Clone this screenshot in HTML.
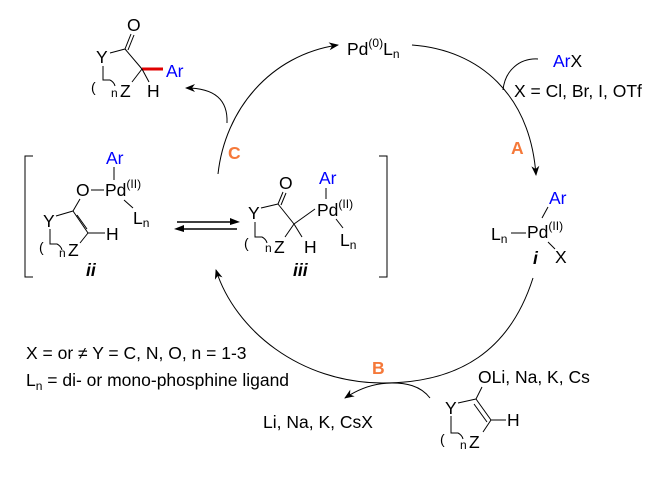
<!DOCTYPE html>
<html><head><meta charset="utf-8"><style>
html,body{margin:0;padding:0;background:#fff;}
svg{display:block;}
text{font-family:"Liberation Sans",sans-serif;font-size:17.5px;fill:#000;}
.s{font-size:12px;}
.b{fill:#0000ff;}
.o{fill:#f5793a;font-weight:bold;}
.it{font-style:italic;font-weight:bold;}
line,path{stroke:#000;stroke-width:1;fill:none;}
</style></head><body>
<svg width="672" height="485" viewBox="0 0 672 485" xmlns="http://www.w3.org/2000/svg">
<defs>
<marker id="ah" markerWidth="10" markerHeight="8" refX="9" refY="4" orient="auto" markerUnits="userSpaceOnUse">
<path d="M0,0 L10,4 L0,8 L3,4 Z" style="fill:#000;stroke:none"/></marker>
</defs>

<!-- top product -->
<text x="127" y="31">O</text>
<text x="96" y="63">Y</text>
<text x="166" y="77" class="b">Ar</text>
<text x="147" y="97">H</text>
<text x="120" y="97">Z</text>
<text x="91" y="92" style="font-size:14px">(</text>
<text x="111" y="97" class="s">n</text>
<line x1="110" y1="53" x2="125" y2="49"/>
<line x1="125" y1="49" x2="131" y2="34"/>
<line x1="128" y1="50" x2="134" y2="35"/>
<line x1="125" y1="49" x2="142" y2="69"/>
<line x1="142" y1="69" x2="163" y2="69" style="stroke:#e00000;stroke-width:3"/>
<line x1="142" y1="69" x2="149" y2="82"/>
<line x1="142" y1="69" x2="132" y2="82"/>
<path d="M103,66 L103,80 L110,80 M110,80 q4,2 5,6"/>

<!-- Pd(0)Ln -->
<text x="347" y="55">Pd<tspan class="s" dy="-8">(0)</tspan><tspan dy="8">L</tspan><tspan class="s" dy="3">n</tspan></text>

<!-- big arcs -->
<path d="M218,174 C225,110 270,55 338,45" marker-end="url(#ah)"/>
<path d="M412,45 C480,50 530,95 536,175" marker-end="url(#ah)"/>
<path d="M533,278 C510,350 460,383 383,383 C300,383 235,330 216,270" marker-end="url(#ah)"/>
<!-- small arcs -->
<path d="M227,123 C228,100 215,88 186,88" marker-end="url(#ah)"/>
<path d="M538,59 C520,58 505,70 503,90"/>
<path d="M430,398 C420,385 405,383 392,383 C375,383 360,388 345,398" marker-end="url(#ah)"/>

<!-- labels -->
<text x="228" y="159" class="o">C</text>
<text x="511" y="154" class="o">A</text>
<text x="372" y="374" class="o">B</text>
<text x="553" y="67"><tspan class="b">Ar</tspan>X</text>
<text x="514" y="97">X = Cl, Br, I, OTf</text>

<!-- complex i -->
<text x="549" y="204" class="b">Ar</text>
<line x1="548" y1="207" x2="542" y2="218"/>
<text x="527" y="238">Pd<tspan class="s" dy="-8">(II)</tspan></text>
<text x="491" y="240">L<tspan class="s" dy="3">n</tspan></text>
<line x1="511" y1="233" x2="526" y2="233"/>
<line x1="548" y1="242" x2="555" y2="249"/>
<text x="555" y="263">X</text>
<text x="533" y="264" class="it">i</text>

<!-- brackets -->
<path d="M33,156 L25,156 L25,277 L33,277"/>
<path d="M379,156 L387,156 L387,277 L379,277"/>

<!-- complex ii -->
<text x="106" y="164" class="b">Ar</text>
<line x1="114" y1="167" x2="114" y2="180"/>
<text x="76" y="196">O</text>
<line x1="91" y1="190" x2="104" y2="190"/>
<text x="105" y="196">Pd<tspan class="s" dy="-8">(II)</tspan></text>
<line x1="124" y1="200" x2="133" y2="208"/>
<text x="133" y="224">L<tspan class="s" dy="3">n</tspan></text>
<text x="43" y="227">Y</text>
<line x1="56" y1="216" x2="73" y2="211"/>
<line x1="73" y1="211" x2="80" y2="199"/>
<line x1="73" y1="211" x2="88" y2="233"/>
<line x1="77" y1="215" x2="87" y2="229"/>
<line x1="88" y1="233" x2="105" y2="233"/>
<text x="106" y="240">H</text>
<line x1="88" y1="233" x2="80" y2="243"/>
<text x="68" y="256">Z</text>
<path d="M50,229 L50,244 L57,244 q4,2 5,6"/>
<text x="39" y="252" style="font-size:14px">(</text>
<text x="59" y="257" class="s">n</text>
<text x="86" y="276" class="it">ii</text>

<!-- equilibrium arrows -->
<line x1="177" y1="222" x2="232" y2="222" style="stroke-width:1.5"/>
<path d="M240,222 L230,218 L230,225 Z" style="fill:#000;stroke:none"/>
<line x1="182" y1="229" x2="237" y2="229" style="stroke-width:1.5"/>
<path d="M174,229 L184,225 L184,232 Z" style="fill:#000;stroke:none"/>

<!-- complex iii -->
<text x="279" y="189">O</text>
<text x="319" y="184" class="b">Ar</text>
<line x1="326" y1="188" x2="326" y2="199"/>
<text x="317" y="216">Pd<tspan class="s" dy="-8">(II)</tspan></text>
<line x1="336" y1="219" x2="343" y2="228"/>
<text x="340" y="246">L<tspan class="s" dy="3">n</tspan></text>
<text x="248" y="219">Y</text>
<line x1="261" y1="208" x2="278" y2="204"/>
<line x1="278" y1="204" x2="283" y2="192"/>
<line x1="281" y1="205" x2="286" y2="193"/>
<line x1="278" y1="204" x2="294" y2="224"/>
<line x1="294" y1="224" x2="315" y2="209"/>
<line x1="294" y1="224" x2="302" y2="237"/>
<text x="304" y="253">H</text>
<line x1="294" y1="224" x2="285" y2="237"/>
<text x="274" y="253">Z</text>
<path d="M255,222 L255,237 L262,237 q4,2 5,6"/>
<text x="244" y="248" style="font-size:14px">(</text>
<text x="265" y="252" class="s">n</text>
<text x="293" y="276" class="it">iii</text>

<!-- notes -->
<text x="26" y="359">X = or ≠ Y = C, N, O, n = 1-3</text>
<text x="26" y="386">L<tspan class="s" dy="4">n</tspan><tspan dy="-4"> = di- or mono-phosphine ligand</tspan></text>
<text x="263" y="428">Li, Na, K, CsX</text>

<!-- enolate -->
<text x="478" y="383">OLi, Na, K, Cs</text>
<line x1="476" y1="399" x2="482" y2="387"/>
<text x="445" y="414">Y</text>
<line x1="458" y1="403" x2="476" y2="399"/>
<line x1="476" y1="399" x2="491" y2="420"/>
<line x1="474" y1="404" x2="487" y2="422"/>
<line x1="491" y1="420" x2="506" y2="420"/>
<text x="507" y="426">H</text>
<line x1="491" y1="420" x2="483" y2="432"/>
<text x="469" y="448">Z</text>
<path d="M451,416 L451,433 L458,433 q4,2 5,6"/>
<text x="440" y="444" style="font-size:14px">(</text>
<text x="460" y="449" class="s">n</text>
</svg>
</body></html>
